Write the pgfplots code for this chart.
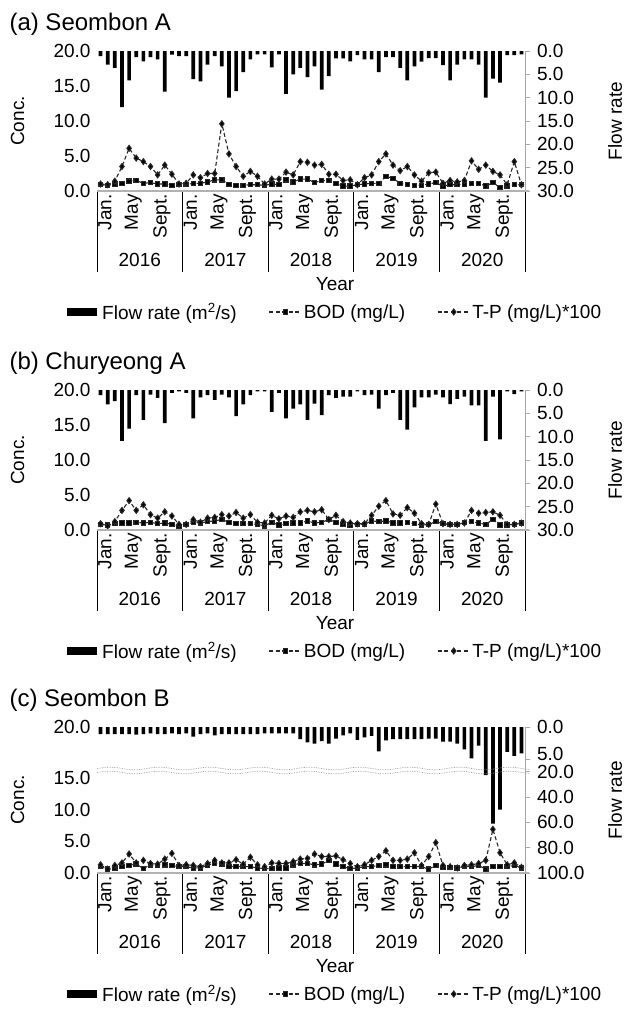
\documentclass[border=0pt]{standalone}
\usepackage{pgfplots}
\pgfplotsset{compat=1.18}
\usepackage{pgfplotstable}
\usepackage{fontspec}
\setmainfont{Liberation Sans}
\newcommand\fs{\fontsize{19bp}{22bp}\selectfont}
\newcommand\ft{\fontsize{24bp}{28bp}\selectfont}

\pgfplotstableread{
x flow bod tp
0 1.1 0.9 1.0
1 2.9 0.8 0.9
2 3.6 1.0 1.4
3 12.0 1.1 3.5
4 6.3 1.4 6.1
5 1.3 1.5 4.7
6 2.2 1.1 4.2
7 1.3 1.2 3.5
8 1.8 1.0 2.3
9 8.7 1.0 3.7
10 0.8 0.8 2.4
11 1.1 0.9 1.0
12 1.1 0.9 1.1
13 6.0 1.1 2.3
14 6.5 1.1 1.9
15 2.9 1.3 2.5
16 1.1 1.6 2.5
17 3.3 1.6 9.6
18 10.0 0.9 5.3
19 8.6 0.8 3.5
20 4.5 0.8 2.1
21 1.8 0.9 2.8
22 0.7 0.9 2.1
23 0.7 0.8 1.0
24 3.5 1.0 1.7
25 0.7 0.9 1.7
26 9.2 1.6 2.7
27 5.0 1.3 2.3
28 3.6 1.7 4.2
29 5.6 1.7 4.1
30 3.3 1.2 3.7
31 8.3 1.5 3.8
32 5.4 1.5 2.4
33 1.6 1.1 2.4
34 1.6 0.7 1.5
35 2.2 0.7 1.6
36 0.9 0.9 0.9
37 1.8 1.0 1.9
38 1.8 1.1 2.3
39 4.5 1.1 4.2
40 1.3 2.1 5.3
41 1.3 1.8 3.7
42 3.6 1.1 2.9
43 6.3 0.9 3.5
44 3.3 0.8 2.3
45 2.3 0.8 1.4
46 1.5 1.0 2.6
47 1.5 1.2 2.7
48 3.0 0.7 1.1
49 6.3 0.9 1.5
50 2.9 0.9 1.3
51 1.8 1.0 1.5
52 1.8 1.1 4.3
53 2.9 1.1 3.1
54 10.0 0.7 3.7
55 5.9 1.2 2.8
56 6.8 0.5 2.3
57 0.9 0.7 0.9
58 0.9 0.9 4.2
59 0.7 0.9 0.9
}\tA

\pgfplotstableread{
x flow bod tp
0 1.1 0.8 0.9
1 3.1 0.7 0.6
2 2.4 0.9 1.2
3 10.9 1.0 2.8
4 8.3 1.0 4.2
5 1.1 1.1 2.8
6 6.4 1.0 3.6
7 1.0 1.1 2.2
8 1.7 0.9 1.7
9 7.1 1.0 2.6
10 0.6 0.8 2.0
11 0.3 0.5 0.8
12 0.6 0.8 0.8
13 6.1 1.1 1.5
14 1.6 1.0 1.1
15 1.1 1.2 1.7
16 2.1 1.3 1.8
17 1.0 1.5 2.2
18 1.6 1.1 2.0
19 5.6 0.9 2.5
20 3.1 0.9 1.7
21 1.1 0.9 2.2
22 0.3 0.8 1.1
23 0.3 0.6 1.0
24 4.7 1.1 2.1
25 0.6 0.7 1.6
26 6.1 0.9 2.0
27 4.0 1.0 1.8
28 3.1 1.0 2.6
29 6.4 1.3 2.8
30 2.9 1.0 2.6
31 5.4 1.1 2.9
32 1.1 1.5 1.5
33 1.7 1.1 2.1
34 1.4 0.8 1.2
35 1.4 0.7 1.0
36 0.3 0.8 0.9
37 1.1 0.8 0.9
38 1.0 1.3 2.1
39 4.0 1.2 3.4
40 1.1 1.3 4.2
41 0.6 1.0 2.3
42 6.4 1.0 2.1
43 8.5 1.1 3.2
44 3.7 0.9 2.4
45 1.6 0.7 0.9
46 1.6 0.8 0.8
47 1.0 1.2 3.7
48 1.6 0.9 0.9
49 3.0 0.8 0.8
50 1.9 0.8 0.8
51 1.4 1.1 1.0
52 3.3 1.2 2.8
53 3.3 1.0 2.4
54 10.9 0.8 2.5
55 1.4 1.5 2.6
56 10.6 0.7 2.1
57 0.3 0.7 0.8
58 0.9 0.8 0.8
59 0.3 1.0 1.0
}\tB

\pgfplotstableread{
x flow bod tp
0 1.1 1.0 1.3
1 1.1 0.6 0.6
2 1.1 0.8 1.2
3 1.1 1.0 1.6
4 1.1 1.2 3.0
5 1.2 1.4 1.6
6 1.1 0.7 2.0
7 1.0 1.3 1.5
8 1.1 1.2 1.4
9 1.1 1.3 2.2
10 1.0 1.2 3.1
11 1.1 1.0 1.2
12 1.0 1.0 1.3
13 1.5 0.8 1.2
14 1.1 0.8 1.0
15 1.0 1.2 1.5
16 1.3 1.6 2.0
17 1.1 1.4 1.6
18 1.1 1.0 1.6
19 1.1 1.0 2.1
20 1.1 1.0 1.4
21 1.1 1.0 2.5
22 1.1 0.8 1.3
23 1.0 0.7 1.0
24 1.0 0.7 1.6
25 1.0 0.8 1.5
26 1.0 0.8 1.5
27 1.0 1.3 1.8
28 1.9 1.5 2.2
29 2.4 1.5 2.3
30 2.6 1.3 3.0
31 2.2 1.4 2.6
32 2.6 2.0 2.6
33 1.8 1.4 2.7
34 1.3 1.0 2.1
35 1.0 0.7 1.5
36 2.0 0.8 1.0
37 1.6 1.0 1.3
38 1.4 1.0 2.0
39 3.8 1.2 2.6
40 2.1 1.3 3.5
41 1.9 1.0 2.0
42 1.9 1.0 2.0
43 1.9 1.0 2.2
44 1.9 1.0 3.2
45 1.9 1.0 1.2
46 1.8 0.6 2.6
47 1.8 1.2 4.8
48 2.3 0.9 1.2
49 2.3 0.9 1.0
50 2.6 0.8 0.8
51 3.5 1.0 1.2
52 4.9 1.0 1.3
53 2.9 1.2 1.5
54 22.6 0.6 2.0
55 61.0 1.0 6.9
56 50.0 1.0 3.2
57 3.9 1.0 1.3
58 4.5 1.2 1.6
59 4.1 0.8 0.9
}\tC

\pgfplotsset{
  legline/.style={legend image code/.code={\draw[mark repeat=2,mark phase=2,##1] plot coordinates {(0bp,0bp)(16bp,0bp)(32bp,0bp)};}},
  backax/.style={
    scale only axis, width=428bp, anchor=south west,
    xmin=-0.5, xmax=59.5,
    axis line style={draw=none},
    xtick=\empty,
    minor xtick={-0.5,0.5,...,59.5},
    xminorgrids,
    minor x grid style={gray!28, line width=1.1bp},
    minor tick length=0pt,
    y dir=reverse,
    ytick pos=right, yticklabel pos=right,
    tick align=outside, major tick length=4.5bp,
    tick style={gray!70, line width=0.8bp},
    yticklabel style={font=\fs, xshift=4bp},
    extra description/.code={\draw[gray!70, line width=0.9bp] (rel axis cs:1,0) -- (rel axis cs:1,1);},
  },
  frontax/.style={
    scale only axis, width=428bp, anchor=south west,
    xmin=-0.5, xmax=59.5, ymin=0, ymax=20,
    clip=false,
    axis line style={draw=none},
    ytick={0,5,10,15,20}, yticklabels={0.0,5.0,10.0,15.0,20.0},
    ytick pos=left, xtick pos=left,
    major tick length=0pt,
    xtick={0.6,4.6,8.6,12.6,16.6,20.6,24.6,28.6,32.6,36.6,40.6,44.6,48.6,52.6,56.6},
    xticklabels={Jan.,May,Sept.,Jan.,May,Sept.,Jan.,May,Sept.,Jan.,May,Sept.,Jan.,May,Sept.},
    xticklabel style={rotate=90, anchor=east, font=\fs, inner sep=3bp},
    yticklabel style={font=\fs, xshift=-3bp},
    legend columns=3,
    legend cell align=left,
    legend style={font=\fs, draw=none, fill=none, anchor=center,
      /tikz/every even column/.append style={column sep=30bp}},
    extra description/.code={\draw[gray!60, line width=1.4bp] (rel axis cs:0,0) -- (rel axis cs:1.01,0);},
  },
  bodst/.style={black!85, line width=1.1bp, dash pattern=on 4bp off 2.5bp, mark=square*, mark size=2.2bp, mark options={solid, fill=black}, legline},
  tpst/.style={black!85, line width=1.1bp, dash pattern=on 4bp off 2.5bp, mark=diamond*, mark size=2.9bp, mark options={solid, fill=black}, legline},
  barst/.style={ybar, bar width=3.7bp, fill=black, draw=none},
  flowleg/.style={legend image code/.code={\fill[black] (0bp,-3.5bp) rectangle (29bp,3.5bp); \path (33bp,0bp);}},
}

\newcommand\sepsyears{%
  \pgfplotsinvokeforeach{-0.5,11.5,23.5,35.5,47.5,59.5}{\draw[black, line width=1bp] (axis cs:##1,0) -- ([yshift=-81bp]axis cs:##1,0);}
  \node[font=\fs, yshift=-69bp] at (axis cs:5.5,0) {2016};
  \node[font=\fs, yshift=-69bp] at (axis cs:17.5,0) {2017};
  \node[font=\fs, yshift=-69bp] at (axis cs:29.5,0) {2018};
  \node[font=\fs, yshift=-69bp] at (axis cs:41.5,0) {2019};
  \node[font=\fs, yshift=-69bp] at (axis cs:53.5,0) {2020};
}

\begin{document}
\begin{tikzpicture}
\path[use as bounding box] (0,0) rectangle (624bp,-1012bp);

% ---------------- (a)
\begin{axis}[backax, at={(97bp,-191bp)}, height=140bp, ymin=0, ymax=30,
  ytick={0,5,10,15,20,25,30}, yticklabels={0.0,5.0,10.0,15.0,20.0,25.0,30.0}]
\addplot[barst] table[x=x,y=flow]{\tA};
\end{axis}
\begin{axis}[frontax, at={(97bp,-191bp)}, height=140bp,
  legend style={at={(axis description cs:0.556,-0.864)}}]
\addlegendimage{flowleg}
\addlegendentry{Flow rate (m\textsuperscript{2}/s)}
\addplot[bodst] table[x=x,y=bod]{\tA}; \addlegendentry{BOD (mg/L)}
\addplot[tpst] table[x=x,y=tp]{\tA}; \addlegendentry{T-P (mg/L)*100}
\sepsyears
\end{axis}
\node[font=\ft, anchor=base west] at (6bp,-30bp) {(a) Seombon A};
\node[font=\fs, rotate=90] at (17.5bp,-121bp) {Conc.};
\node[font=\fs, rotate=90] at (615bp,-121bp) {Flow rate};
\node[font=\fs] at (335bp,-284bp) {Year};

% ---------------- (b)
\begin{axis}[backax, at={(97bp,-530bp)}, height=140bp, ymin=0, ymax=30,
  ytick={0,5,10,15,20,25,30}, yticklabels={0.0,5.0,10.0,15.0,20.0,25.0,30.0}]
\addplot[barst] table[x=x,y=flow]{\tB};
\end{axis}
\begin{axis}[frontax, at={(97bp,-530bp)}, height=140bp,
  legend style={at={(axis description cs:0.556,-0.864)}}]
\addlegendimage{flowleg}
\addlegendentry{Flow rate (m\textsuperscript{2}/s)}
\addplot[bodst] table[x=x,y=bod]{\tB}; \addlegendentry{BOD (mg/L)}
\addplot[tpst] table[x=x,y=tp]{\tB}; \addlegendentry{T-P (mg/L)*100}
\sepsyears
\end{axis}
\node[font=\ft, anchor=base west] at (6bp,-369bp) {(b) Churyeong A};
\node[font=\fs, rotate=90] at (17.5bp,-460bp) {Conc.};
\node[font=\fs, rotate=90] at (615bp,-460bp) {Flow rate};
\node[font=\fs] at (335bp,-623bp) {Year};

% ---------------- (c)
\begin{axis}[backax, at={(97bp,-873bp)}, height=146bp, ymin=0, ymax=100,
  y coord trafo/.code={\pgfmathparse{(#1<=5)*(#1*6.4)+and(#1>5,#1<=20)*(32+(#1-5)*0.84667)+(#1>20)*(44.7+(#1-20)*1.26625)}},
  y coord inv trafo/.code={\pgfmathparse{(#1<=32)*(#1/6.4)+and(#1>32,#1<=44.7)*(5+(#1-32)/0.84667)+(#1>44.7)*(20+(#1-44.7)/1.26625)}},
  yticklabel style={inner ysep=0bp},
  ytick={0,20,40,60,80,100}, yticklabels={0.0,20.0,40.0,60.0,80.0,100.0},
  extra y ticks={5}, extra y tick labels={5.0},
  extra y tick style={yticklabel style={yshift=5bp, inner ysep=0bp}}]
\addplot[barst] table[x=x,y=flow]{\tC};
\end{axis}
\begin{axis}[frontax, at={(97bp,-873bp)}, height=146bp,
  y coord trafo/.code={\pgfmathparse{(#1<=15)*(#1*6.33333)+(#1>15)*(95+(#1-15)*10.2)}},
  y coord inv trafo/.code={\pgfmathparse{(#1<=95)*(#1/6.33333)+(#1>95)*(15+(#1-95)/10.2)}},
  legend style={at={(axis description cs:0.556,-0.829)}}]
\addlegendimage{flowleg}
\addlegendentry{Flow rate (m\textsuperscript{2}/s)}
\addplot[bodst] table[x=x,y=bod]{\tC}; \addlegendentry{BOD (mg/L)}
\addplot[tpst] table[x=x,y=tp]{\tC}; \addlegendentry{T-P (mg/L)*100}
\sepsyears
\end{axis}
\draw[gray!80, densely dotted, line width=0.7bp] plot[domain=97:529, samples=200, smooth] ({\x*1bp},{(-768.5+1.3*sin(7.2*(\x-97)))*1bp});
\draw[gray!80, densely dotted, line width=0.7bp] plot[domain=97:529, samples=200, smooth] ({\x*1bp},{(-772.5+1.3*sin(7.2*(\x-97)))*1bp});
\node[font=\ft, anchor=base west] at (6bp,-706bp) {(c) Seombon B};
\node[font=\fs, rotate=90] at (17.5bp,-800bp) {Conc.};
\node[font=\fs, rotate=90] at (615bp,-800bp) {Flow rate};
\node[font=\fs] at (335bp,-966bp) {Year};
\end{tikzpicture}
\end{document}
